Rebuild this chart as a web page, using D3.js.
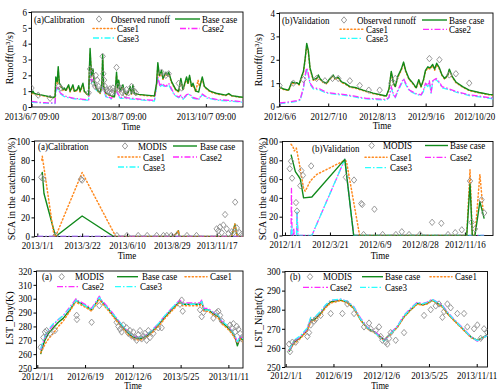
<!DOCTYPE html>
<html><head><meta charset="utf-8">
<script src="https://cdn.jsdelivr.net/npm/d3@7"></script>
<style>
body{margin:0;background:#fff}
svg{display:block}
text{font-family:"Liberation Serif","Times New Roman",serif;font-size:10px;fill:#000}
</style>
</head><body><svg id="c" width="500" height="391"></svg>
<script>
// ---------------- DATA ----------------
// x values are day offsets from the first tick date of each panel
const ticksA = [0,61,122];
const labelsA = ["2013/6/7 09:00","2013/8/7 09:00","2013/10/7 09:00"];
const ticksB = [0,34,68,102,136];
const labelsB = ["2012/6/6","2012/7/10","2012/8/13","2012/9/16","2012/10/20"];
const ticksC = [0,80,160,240,320];
const labelsC = ["2013/1/1","2013/3/22","2013/6/10","2013/8/29","2013/11/17"];
const ticksD = [0,80,160,240,320];
const labelsD = ["2012/1/1","2012/3/21","2012/6/9","2012/8/28","2012/11/16"];
const ticksE = [0,170,340,510,680];
const labelsE = ["2012/1/1","2012/6/19","2012/12/6","2013/5/25","2013/11/11"];
const ticksF = [0,170,340,510,680];
const labelsF = ["2012/1/1","2012/6/19","2012/12/6","2013/5/25","2013/11/11"];

// (a) Calibration runoff
const runA_base = [[0,0.85],[1,1.0],[2,0.85],[5,0.8],[10,0.7],[15,0.6],[16.5,0.65],[17,1.9],[18,1.6],[18.7,2.55],[19.5,1.5],[21,1.3],[22,1.1],[23,1.2],[24,1.05],[26,1.4],[27,1.0],[29,1.4],[30,1.0],[32,1.1],[33,1.35],[34,1.0],[36,1.5],[37,1.0],[39,0.8],[40,0.75],[40.5,2.4],[41,3.7],[42,2.0],[43,2.4],[44,1.5],[45,1.3],[46,1.1],[47,1.0],[48,0.9],[49.2,1.4],[49.8,3.3],[50.5,1.3],[52,0.9],[54,0.8],[56,0.7],[58,0.65],[59,1.5],[59.5,2.2],[60.2,1.2],[61,1.7],[62,1.0],[64,1.4],[65,0.9],[67,0.8],[69,1.3],[70,0.85],[71,1.4],[72,0.85],[75,0.8],[80,0.75],[86,0.7],[87.5,1.5],[88.4,2.8],[89.5,2.0],[91,2.3],[92,1.8],[94,2.2],[95,2.0],[96,2.2],[98,1.6],[101,1.1],[103,1.0],[104.5,1.8],[106,1.1],[108.5,1.9],[109.5,1.5],[110.6,2.0],[112,1.3],[113,1.5],[115,1.0],[117,0.95],[119.5,1.9],[121,1.3],[125,1.0],[130,0.85],[136,0.75],[138,0.85],[140,0.72],[145,0.65],[148,0.62]];
const runA_case1 = [[0,0.8],[1,0.95],[2,0.8],[5,0.75],[10,0.68],[15,0.58],[16.5,0.62],[17,1.8],[18,1.5],[18.7,2.3],[19.5,1.4],[21,1.25],[22,1.05],[23,1.15],[24,1.0],[26,1.35],[27,0.95],[29,1.3],[30,0.95],[32,1.05],[33,1.3],[34,0.95],[36,1.4],[37,0.95],[39,0.78],[40,0.72],[40.5,2.2],[41,3.4],[42,1.9],[43,2.3],[44,1.45],[45,1.25],[46,1.05],[47,0.95],[48,0.85],[49.2,1.3],[49.8,3.0],[50.5,1.2],[52,0.85],[54,0.75],[56,0.68],[58,0.62],[59,1.4],[59.5,2.0],[60.2,1.1],[61,1.6],[62,0.95],[64,1.3],[65,0.85],[67,0.78],[69,1.2],[70,0.82],[71,1.3],[72,0.82],[75,0.78],[80,0.72],[86,0.68],[87.5,1.4],[88.4,2.6],[89.5,1.9],[91,2.2],[92,1.75],[94,2.1],[95,1.95],[96,2.1],[98,1.55],[101,1.05],[103,0.95],[104.5,1.7],[106,1.05],[108.5,1.8],[109.5,1.45],[110.6,1.9],[112,1.25],[113,1.4],[115,0.95],[116.5,1.7],[117.5,1.3],[119.5,1.8],[121,1.25],[125,0.95],[130,0.82],[136,0.72],[138,0.82],[140,0.7],[145,0.63],[148,0.6]];
const runA_case2 = [[0,0.35],[5,0.3],[10,0.27],[16.5,0.25],[17,1.1],[18.7,1.3],[20,0.9],[23,0.7],[26,0.62],[30,0.55],[35,0.5],[40,0.45],[40.5,1.8],[41,2.3],[42,1.6],[43,1.8],[45,1.2],[48,0.9],[49.8,1.4],[52,0.7],[56,0.55],[59.5,1.0],[62,0.6],[65,0.6],[70,0.55],[80,0.45],[86,0.42],[88.4,1.9],[90,1.3],[91,1.5],[94,1.3],[96,1.5],[100,0.8],[103,0.62],[104.5,0.75],[106,0.52],[108.5,0.78],[110.6,0.82],[113,0.6],[117,0.5],[119.5,0.82],[123,0.6],[130,0.47],[140,0.4],[148,0.33]];
const runA_case3 = [[0,0.3],[5,0.27],[10,0.24],[16.5,0.22],[17,1.0],[18.7,1.2],[20,0.85],[23,0.65],[26,0.58],[30,0.52],[35,0.47],[40,0.42],[40.5,1.7],[41,2.2],[42,1.5],[43,1.7],[45,1.1],[48,0.85],[49.8,1.3],[52,0.65],[56,0.5],[59.5,0.95],[62,0.55],[65,0.55],[70,0.5],[80,0.42],[86,0.38],[88.4,1.8],[90,1.25],[91,1.4],[94,1.25],[96,1.4],[100,0.75],[103,0.58],[104.5,0.7],[106,0.48],[108.5,0.72],[110.6,0.78],[113,0.55],[117,0.46],[119.5,0.78],[123,0.56],[130,0.43],[140,0.36],[148,0.3]];
const obsA = [[0,1.2],[4.7,0.75],[13,0.55],[19,1.3],[20.5,1.2],[40,0.9],[41,2.4],[42,2.1],[42.5,1.8],[43.5,1.5],[44.5,1.3],[45,2.0],[46,1.7],[47,1.3],[48,1.1],[49.8,3.2],[50.2,2.1],[50.8,1.7],[51.5,1.3],[52.5,1.1],[53.5,1.0],[54.5,0.95],[55,1.15],[56,0.9],[57,1.2],[58,1.0],[59.5,2.5],[60.5,1.3],[61.5,1.1],[62.5,1.2],[63.5,0.9],[64.5,1.0],[65.5,0.8],[66.5,1.1],[68,0.9],[70,1.3],[72,1.0],[73,0.9],[91,2.2],[94,2.0],[96,2.1],[103,1.5],[105,1.2]];

// (b) Validation runoff
const runB_base = [[0,0.83],[2.8,0.75],[6.3,0.7],[8.6,1.05],[10.9,1.0],[12,1.02],[13.7,0.95],[15.5,1.3],[16.7,1.5],[17.8,2.0],[19,2.7],[20.1,2.4],[21.3,1.65],[23.6,1.15],[25.9,1.2],[27.1,1.35],[28.2,1.2],[30.6,1.05],[32.9,1.0],[35.2,1.2],[37.5,1.35],[38.7,1.2],[41,1.25],[43.3,1.05],[45.6,1.0],[49.1,0.85],[53.7,0.8],[58.3,0.7],[65.3,0.57],[74.5,0.45],[76.4,0.75],[78,1.5],[79.6,1.0],[80.8,0.85],[82.6,1.3],[85,1.6],[86.6,1.9],[88,1.55],[90.3,1.2],[93.1,1.0],[95.4,0.8],[97.2,1.15],[98.8,0.85],[100.5,1.15],[101.9,1.55],[103.5,1.7],[105.1,1.65],[106.9,1.8],[108.3,1.6],[109.7,1.85],[111.6,1.65],[113.4,1.35],[115.3,1.2],[117.4,1.35],[118.5,1.6],[120.4,1.3],[123.1,1.05],[127.8,0.85],[132.4,0.7],[139.4,0.6],[146.3,0.52],[149,0.5]];
const runB_case1 = [[0,0.8],[2.8,0.73],[6.3,0.68],[8.6,1.0],[10.9,0.97],[12,1.0],[13.7,0.92],[15.5,1.25],[16.7,1.45],[17.8,1.95],[19,2.6],[20.1,2.35],[21.3,1.6],[23.6,1.12],[25.9,1.17],[27.1,1.3],[28.2,1.17],[30.6,1.02],[32.9,0.97],[35.2,1.17],[37.5,1.3],[38.7,1.17],[41,1.22],[43.3,1.02],[45.6,0.97],[49.1,0.83],[53.7,0.77],[58.3,0.68],[65.3,0.55],[74.5,0.44],[76.4,0.72],[78,1.45],[79.6,0.97],[80.8,0.83],[82.6,1.25],[85,1.55],[86.6,1.85],[88,1.5],[90.3,1.17],[93.1,0.97],[95.4,0.78],[97.2,1.12],[98.8,0.83],[100.5,1.12],[101.9,1.5],[103.5,1.65],[105.1,1.6],[106.9,1.75],[108.3,1.55],[109.7,1.8],[111.6,1.6],[113.4,1.32],[115.3,1.17],[117.4,1.32],[118.5,1.55],[120.4,1.27],[123.1,1.02],[127.8,0.83],[132.4,0.68],[139.4,0.58],[146.3,0.5],[149,0.48]];
const runB_case2 = [[0,0.15],[7.4,0.2],[12,0.25],[14.4,0.3],[16.7,0.8],[17.8,1.3],[19,1.65],[20.1,1.4],[21.3,1.0],[23.6,0.8],[28.2,0.75],[32.9,0.6],[39.8,0.55],[46.8,0.5],[51.4,0.45],[56.0,0.4],[60.6,0.35],[67.6,0.33],[74.5,0.3],[76.4,0.4],[78,0.85],[79.6,0.5],[80.8,0.4],[82.6,0.7],[85,1.0],[86.6,1.2],[88.4,0.95],[90.7,0.7],[95.4,0.55],[98.8,0.5],[100.5,0.7],[101.9,1.0],[103.5,0.9],[104.6,1.1],[105.8,0.6],[106.9,1.1],[109.3,1.2],[111.6,1.05],[113.4,0.85],[118.5,0.75],[123.1,0.65],[132.4,0.5],[141.7,0.42],[149,0.35]];
const runB_case3 = [[0,0.12],[7.4,0.17],[12,0.22],[14.4,0.27],[16.7,0.75],[17.8,1.25],[19,1.6],[20.1,1.35],[21.3,0.95],[23.6,0.75],[28.2,0.7],[32.9,0.57],[39.8,0.52],[46.8,0.47],[51.4,0.42],[56.0,0.37],[60.6,0.33],[67.6,0.3],[74.5,0.27],[76.4,0.37],[78,0.8],[79.6,0.47],[80.8,0.37],[82.6,0.65],[85,0.95],[86.6,1.15],[88.4,0.9],[90.7,0.67],[95.4,0.52],[98.8,0.47],[100.5,0.65],[101.9,0.95],[103.5,0.85],[104.6,1.05],[105.8,0.57],[106.9,1.05],[109.3,1.15],[111.6,1.0],[113.4,0.8],[118.5,0.72],[123.1,0.62],[132.4,0.47],[141.7,0.4],[149,0.33]];
const obsB = [[0,0.9],[9.7,1.0],[16.7,1.15],[25.9,1.2],[31.7,1.1],[37,1.2],[41,1.2],[49.1,1.1],[56,0.9],[62.3,0.7],[69.9,0.7],[78,1.0],[80.8,1.2],[104.6,2.05],[111.6,2.0],[118.5,1.35],[123.1,1.4],[132.4,1.0]];

// (a) Calibration SCA
const scaC_base = [[8,65],[8.9,67],[11.9,45],[32.6,0],[80,21.5],[136.3,0],[243,0],[251.9,6],[253,0],[346.7,0],[352.6,13],[356.7,0],[366,0]];
const scaC_case1 = [[8,80],[8.9,84],[30,0],[32.6,0],[80,67],[140,0],[243,0],[251.9,6],[253,0],[346.7,0],[352.6,13],[356.7,0],[366,0]];
const scaC_case2 = [[0,0],[366,0]];
const scaC_case3 = [[0,0],[366,0]];
const modisC = [[7.1,62],[10.7,60],[32.6,1],[78,60],[80,59],[142,1],[160,1],[180,1],[196,1],[213,1],[225,1],[231,1],[239,1],[249,1],[267,1],[284,1],[320,8],[323,6],[326,10],[329,4],[332,12],[335,23],[338,8],[341,3],[347,5],[350,4],[353,36],[356,9],[361,4],[364,2]];

// (b) Validation SCA
const scaD_base = [[10.8,86],[18.5,68],[24.3,63],[27.3,60],[33.1,40],[47.8,41],[106.4,81],[122.2,0],[323.3,0],[329.1,55],[333.2,0],[337.9,0],[346.7,36],[354.3,18]];
const scaD_case1 = [[10.8,97],[14,95],[16.5,90],[20.2,93],[26,75],[33.1,50],[36,47],[45,58],[56.6,65],[80,72],[106.4,80],[109.3,79],[132.8,0],[323.3,0],[329.1,70],[333.2,0],[337.9,0],[346.7,65],[352.6,25]];
const scaD_case2 = [[10.8,0],[11.5,50],[12.6,0],[15,0],[15.5,8],[16.5,0],[20.5,0],[21.4,25],[23.2,0],[47.8,0],[106.4,81],[122.2,0],[354.3,0]];
const scaD_case3 = [[10.8,0],[12,10],[13,0],[20.5,0],[21.4,25],[23.2,0],[47.8,0],[106.4,81],[122.2,0],[354.3,0]];
const modisD = [[8.5,71],[10.8,79],[12.6,61],[19.6,35],[21.4,26],[27.3,53],[29,69],[31.9,64],[46.6,74],[108.2,62],[122.8,59],[135.7,34],[137.5,33],[139.8,1],[159.1,28],[173.7,1],[197.2,1],[207.8,4],[220.7,1],[240,1],[261.7,14],[278.1,13],[290,1],[302.8,3],[314.5,6],[329.1,58],[332,14],[337.9,7],[349.6,38],[354.3,24]];

// (a) LST Day
const lstE_days = [12,20,27,40,57,75,93,116,138,142,170,193,221,229,255,282,306,324,342,366,389,407,431,455,478,502,508,517,550,579,585,593,609,627,644,656,674,692,704,712,722,731];
const lstE_base = [260,266,270,275,279,283,286,292,299,298,295,292,300.5,298,292,285,279,275,272,271,273,276,281,287,292,297,298,296,296,296,298,292,292,289,287,283,280,276,272,266,272,270];
const lstE_case1 = [261,264,267,271,275,280,284,291,298,297,294,291,299.5,297,291,284,278,274,271,270,272,275,280,286,291,296,297,295,295,295,297,291,291,288,286,282,279,275,271,268,271,269];
const lstE_case2 = [263,268,272,277,281,285,288,294,300,299,296,293,301.8,299,293,286,280,276,273,272,274,277,282,288,293,298,299,297,297,297,299,293,293,290,288,284,281,277,273,268,273,271];
const lstE_case3 = [264,269,273,278,282,285,288,293,299,298,295,292,301,298,292,286,280,276,273,272,274,277,282,288,293,298,298,296,296,296,298,292,292,290,288,284,281,277,273,269,273,271];
const modisE = [[11.9,265],[21.4,272],[27.3,276],[33.2,277],[45.1,275],[62.9,277],[140,288],[141,285],[193.4,283],[220.7,295],[282.4,283],[288.4,280],[294.3,278],[300.2,276],[306.2,281],[318,279],[324,275],[329.9,277],[335.8,273],[341.8,276],[347.7,272],[353.6,270],[359.6,274],[365.5,277],[371.4,271],[377.4,273],[383.3,275],[389.2,270],[395.2,277],[401.1,272],[413,275],[430.8,279],[442.6,279],[507.9,296],[513.8,299],[517.4,291],[579.1,292],[585,287],[591,290],[626.6,286],[638.4,290],[644.4,291],[650.3,288],[656.3,284],[685.9,281],[691.9,279],[697.8,282],[703.8,276],[709.8,280],[715.7,278],[721.6,275],[727.5,271]];

// (b) LST Night
const lstF_days = [12,30,53,77,89,101,125,142,160,196,220,243,267,291,315,338,350,362,374,398,421,445,469,487,504,522,540,558,576,593,611,635,659,682,706,718];
const lstF_base = [258,263,265.4,269.3,274.6,274.6,278,281.6,284,285,283.7,280.7,274.6,270.2,268.4,265.8,264,265.8,267.5,271,276.3,280,283.3,282.5,283.3,285,283.3,281.6,278,275.4,272.8,269.3,265.8,264,265.8,267];
const lstF_case1 = [259,262,265,269,273.5,274,277.5,281,283.5,284.8,283.5,280.5,274.5,270,268,265.5,263.5,265.5,267.3,270.8,276,279.8,283,282.3,283,284.8,283,281.3,277.8,275.2,272.5,269,265.5,263.8,265.5,266.5];
const lstF_case2 = [258.5,263.5,266,270,275.5,275.5,279,282.3,284.8,285.5,284.3,281.5,275.5,270.8,268.8,266,264,265.5,267.8,271.5,277,280.8,284,283.2,284,285.5,284,282.3,278.8,276,273.3,269.8,266,263.5,265.5,266.8];
const lstF_case3 = [259,264,266.5,270.5,276,275.8,279.3,282.5,285,285.5,284.3,281.3,275,270.5,268.2,265.3,263.5,265.2,267.5,271.3,276.8,280.5,283.8,283,283.8,285.3,283.8,282,278.5,275.8,273,269.5,265.8,263.8,265.5,266.5];
const modisF = [[11.9,262],[15.4,258],[23.7,263],[35.6,263],[77.1,266],[83.1,268],[89,272],[100.9,274],[106.8,275],[124.6,277],[160.2,278],[201.7,278],[219.5,283],[243.3,278],[278.9,271],[296.7,273],[302.6,270],[320.4,269],[332.3,271],[338.2,266],[344.1,264],[356,263],[361.9,262],[367.9,265],[373.8,268],[391.6,264],[421.3,268],[492.5,277],[516.2,280],[534,282],[545.9,283],[557.7,276],[563.7,279],[575.5,283],[587.4,281],[611.1,278],[634.9,278],[646.7,271],[670.5,270],[682.3,272],[694.2,265],[706.1,270],[718,268]];

// ---------------- STYLE / LAYOUT ----------------
const SX = 0.9;
const STY = {
  base:  {stroke:"#118a1c", w:1.4, dash:null},
  case1: {stroke:"#ff8a1f", w:1.5, dash:"1.2,2.4", cap:"round"},
  case2: {stroke:"#ff2bff", w:1.3, dash:"6,2,1.5,2"},
  case3: {stroke:"#2bffff", w:1.3, dash:"6,2,1.5,2"}
};
const zip = (d, v) => d.map((x, i) => [x, v[i]]);

const panels = [
 {L:31.5,R:243,T:12,B:107, xd:[0,148], yd:[0,6], yt:[0,1,2,3,4,5,6], xt:ticksA, xl:labelsA, pad:6,
  ylab:"Runoff(m³/s)", ylx:9, yly:58, tx:131, ty:130, tfs:10,
  s:{base:runA_base,case1:runA_case1,case2:runA_case2,case3:runA_case3}, obs:obsA,
  order:["case3","case2","case1","base"],
  title:["(a)Calibration",34,19],
  leg:[["obs",99,19,111,"Observed runoff"],["base",175,200,19,202,"Base case"],["case1",93,115,28.5,117,"Case1"],["case2",180,200,28.5,202,"Case2"],["case3",93,115,38,117,"Case3"]]},
 {L:279.5,R:493,T:13,B:106.5, xd:[0,149], yd:[0,4], yt:[0,1,2,3,4], xt:ticksB, xl:labelsB, pad:6,
  ylab:"Runoff(m³/s)", ylx:258, yly:60, tx:382, ty:129, tfs:10,
  s:{base:runB_base,case1:runB_case1,case2:runB_case2,case3:runB_case3}, obs:obsB,
  order:["case3","case2","case1","base"],
  title:["(b)Validation",282,20],
  leg:[["obs",344,20,357,"Observed runoff"],["base",422,447,20,449,"Base case"],["case1",340,363,29.3,366,"Case1"],["case2",423,447,29.3,449,"Case2"],["case3",340,363,38.3,366,"Case3"]]},
 {L:34.5,R:243,T:141,B:236.5, xd:[-5,367], yd:[0,100], yt:[0,20,40,60,80,100], xt:ticksC, xl:labelsC, pad:5.5,
  ylab:"SCA in the catchment(%)", ylx:11.5, yly:189, tx:127, ty:259, tfs:10,
  s:{base:scaC_base,case1:scaC_case1,case2:scaC_case2,case3:scaC_case3}, obs:modisC,
  order:["case3","base","case1","case2"],
  title:["(a)Calibration",38,146],
  leg:[["obs",125,146,138,"MODIS"],["base",173,197,146,200,"Base case"],["case1",118,140,157,143,"Case1"],["case2",173,197,157,200,"Case2"],["case3",118,140,167,143,"Case3"]]},
 {L:282.5,R:493,T:141.5,B:235.5, xd:[-4.4,370], yd:[0,100], yt:[0,20,40,60,80,100], xt:ticksD, xl:labelsD, pad:5.5,
  ylab:"SCA in the catchment(%)", ylx:262, yly:189, tx:380, ty:259, tfs:10,
  s:{base:scaD_base,case1:scaD_case1,case2:scaD_case2,case3:scaD_case3}, obs:modisD,
  order:["case2","case3","case1","base"],
  title:["(b)Validation",312,148.3],
  leg:[["obs",371.7,145.5,383,"MODIS"],["base",425,448,145.5,450,"Base case"],["case1",365,387,157.3,390,"Case1"],["case2",425,448,157.3,450,"Case2"],["case3",365,387,167.7,390,"Case3"]]},
 {L:36.5,R:243,T:271,B:368, xd:[-2.8,732], yd:[250,320], yt:[250,260,270,280,290,300,310,320], xt:ticksE, xl:labelsE, pad:4.5,
  ylab:"LST_Day(K)", ylx:9, yly:318, tx:133, ty:388.6, tfs:9.5,
  s:{base:zip(lstE_days,lstE_base),case1:zip(lstE_days,lstE_case1),case2:zip(lstE_days,lstE_case2),case3:zip(lstE_days,lstE_case3)}, obs:modisE,
  order:["base","case1","case2","case3"],
  title:["(a)",42,276.7],
  leg:[["obs",61.7,276.7,75,"MODIS"],["base",117,138,276.7,142,"Base case"],["case1",185,207,276.7,210,"Case1"],["case2",57,80,286.7,82,"Case2"],["case3",115,138,286.7,140,"Case3"]]},
 {L:285,R:487.5,T:271.5,B:367, xd:[-2.5,718.4], yd:[250,300], yt:[250,260,270,280,290,300], xt:ticksF, xl:labelsF, pad:4.5,
  ylab:"LST_Night(K)", ylx:258, yly:318, tx:380, ty:388.6, tfs:9.5,
  s:{base:zip(lstF_days,lstF_base),case1:zip(lstF_days,lstF_case1),case2:zip(lstF_days,lstF_case2),case3:zip(lstF_days,lstF_case3)}, obs:modisF,
  order:["base","case1","case2","case3"],
  title:["(b)",290,276.7],
  leg:[["obs",310,276.7,323,"MODIS"],["base",362,383,276.7,385,"Base case"],["case1",430,452,276.7,455,"Case1"],["case2",303,328,287.3,330,"Case2"],["case3",360,383,287.3,385,"Case3"]]}
];

// ---------------- DRAW ----------------
const svg = d3.select("#c");
const defs = svg.append("defs");
const diamond = "M0,-3.2L2.7,0L0,3.2L-2.7,0Z";

function txt(g, x, y, s, anchor, dy) {
  return g.append("text")
    .attr("transform", `translate(${x},${y}) scale(${SX},1)`)
    .attr("dy", dy || "0.35em")
    .attr("text-anchor", anchor || "start")
    .text(s);
}
function styleLine(sel, k) {
  const st = STY[k];
  sel.attr("fill", "none").attr("stroke", st.stroke).attr("stroke-width", st.w)
     .attr("stroke-dasharray", st.dash).attr("stroke-linecap", st.cap || "butt")
     .attr("stroke-linejoin", "round");
}

panels.forEach((p, i) => {
  const g = svg.append("g");
  const x = d3.scaleLinear().domain(p.xd).range([p.L, p.R]);
  const y = d3.scaleLinear().domain(p.yd).range([p.B, p.T]);
  const cid = "clip" + i;
  defs.append("clipPath").attr("id", cid).append("rect")
    .attr("x", p.L).attr("y", p.T).attr("width", p.R - p.L).attr("height", p.B - p.T);

  // axes
  const xa = g.append("g").attr("transform", `translate(0,${p.B})`)
    .call(d3.axisBottom(x).tickValues(p.xt).tickFormat((d, j) => p.xl[j])
      .tickSizeInner(-3).tickSizeOuter(0).tickPadding(p.pad));
  xa.select(".domain").remove();
  xa.selectAll("text").attr("transform", `scale(${SX},1)`);
  const ya = g.append("g").attr("transform", `translate(${p.L},0)`)
    .call(d3.axisLeft(y).tickValues(p.yt).tickFormat(d3.format("d"))
      .tickSizeInner(3).tickSizeOuter(0).tickPadding(2));
  ya.select(".domain").remove();
  ya.selectAll("text").attr("transform", `scale(${SX},1)`);
  [xa, ya].forEach(a => a.attr("font-family", null).attr("font-size", null));

  // frame
  g.append("rect").attr("x", p.L).attr("y", p.T).attr("width", p.R - p.L).attr("height", p.B - p.T)
    .attr("fill", "none").attr("stroke", "#000").attr("stroke-width", 0.9);

  // series
  const plot = g.append("g").attr("clip-path", `url(#${cid})`);
  const line = d3.line().x(d => x(d[0])).y(d => y(d[1]));
  p.order.forEach(k => {
    styleLine(plot.append("path").datum(p.s[k]).attr("d", line), k);
  });
  plot.selectAll("path.obs").data(p.obs).join("path").attr("class", "obs")
    .attr("d", diamond).attr("transform", d => `translate(${x(d[0])},${y(d[1])})`)
    .attr("fill", "none").attr("stroke", "#8f8f8f").attr("stroke-width", 0.9);

  // axis titles
  g.append("text").attr("transform", `translate(${p.ylx},${p.yly}) rotate(-90)`)
    .attr("dy", "0.35em").attr("text-anchor", "middle").text(p.ylab);
  g.append("text").attr("transform", `translate(${p.tx},${p.ty}) scale(${SX},1)`)
    .attr("text-anchor", "middle").style("font-size", p.tfs + "px").text("Time");

  // legend
  txt(g, p.title[1], p.title[2], p.title[0]);
  p.leg.forEach(it => {
    if (it[0] === "obs") {
      g.append("path").attr("d", diamond).attr("transform", `translate(${it[1]},${it[2]})`)
        .attr("fill", "none").attr("stroke", "#8f8f8f").attr("stroke-width", 0.9);
      txt(g, it[3], it[2], it[4]);
    } else {
      styleLine(g.append("line").attr("x1", it[1]).attr("x2", it[2]).attr("y1", it[3]).attr("y2", it[3]), it[0]);
      txt(g, it[4], it[3], it[5]);
    }
  });
});
</script>
</body></html>
